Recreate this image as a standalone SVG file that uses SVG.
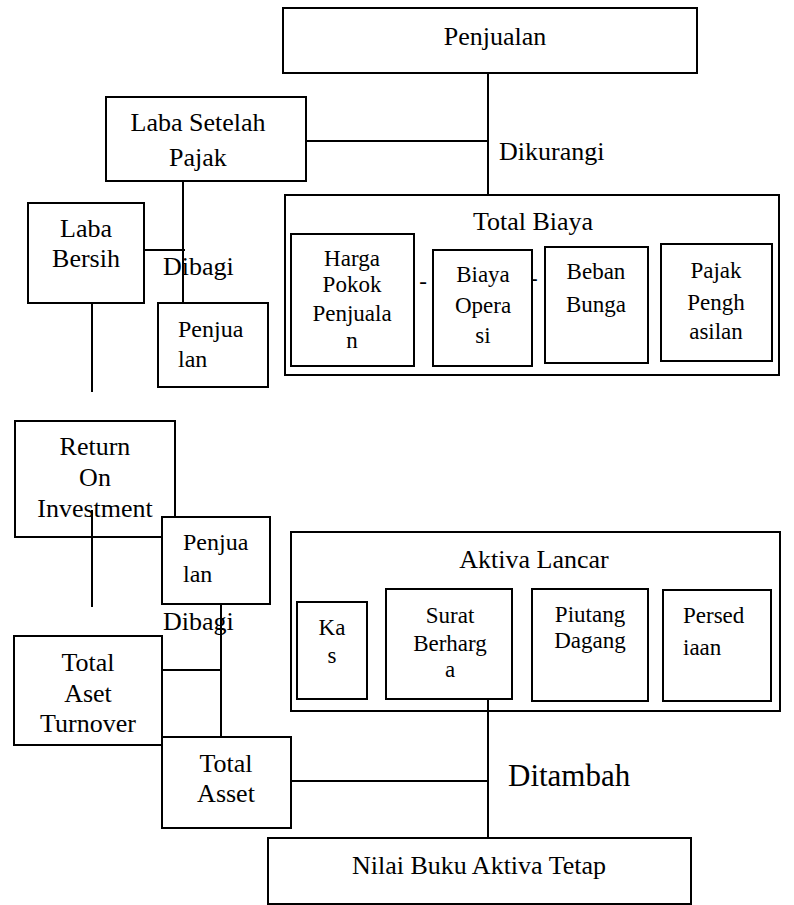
<svg xmlns="http://www.w3.org/2000/svg" width="794" height="905" viewBox="0 0 794 905">
<style>
  rect { fill: #fff; stroke: #000; stroke-width: 2; }
  line { stroke: #000; stroke-width: 2; }
  text { font-family: 'Liberation Serif', 'DejaVu Serif', serif; fill: #000; }
  .l { font-size: 26px; }
  .s { font-size: 23px; }
  .m { font-size: 24px; }
  .c { text-anchor: middle; }
</style>
<rect x="0" y="0" width="794" height="905" style="fill:#fff;stroke:none"/>

<g id="penjualan-top">
  <rect x="283" y="8" width="414" height="65"/>
  <text class="l c" x="495" y="45">Penjualan</text>
</g>

<g id="laba-setelah-pajak">
  <rect x="106" y="97" width="200" height="84"/>
  <text class="l c" x="198" y="131">Laba Setelah</text>
  <text class="l c" x="198" y="166">Pajak</text>
</g>

<g id="total-biaya">
  <rect x="285" y="195" width="494" height="180"/>
  <text class="l c" x="533" y="230">Total Biaya</text>
  <text class="s c" x="423" y="289">-</text>
  <text class="s" x="530" y="286">-</text>
  <g id="harga-pokok-penjualan">
    <rect x="291" y="234" width="123" height="132"/>
    <text class="s c" x="352" y="266">Harga</text>
    <text class="s c" x="352" y="292">Pokok</text>
    <text class="s c" x="352" y="321">Penjuala</text>
    <text class="s c" x="352" y="348">n</text>
  </g>
  <g id="biaya-operasi">
    <rect x="433" y="250" width="99" height="116"/>
    <text class="s c" x="483" y="282">Biaya</text>
    <text class="s c" x="483" y="313">Opera</text>
    <text class="s c" x="483" y="343">si</text>
  </g>
  <g id="beban-bunga">
    <rect x="545" y="247" width="103" height="116"/>
    <text class="s c" x="596" y="279">Beban</text>
    <text class="s c" x="596" y="312">Bunga</text>
  </g>
  <g id="pajak-penghasilan">
    <rect x="661" y="244" width="111" height="117"/>
    <text class="s c" x="716" y="278">Pajak</text>
    <text class="s c" x="716" y="310">Pengh</text>
    <text class="s c" x="716" y="339">asilan</text>
  </g>
</g>

<g id="laba-bersih">
  <rect x="28" y="203" width="116" height="100"/>
  <text class="l c" x="86" y="237">Laba</text>
  <text class="l c" x="86" y="267">Bersih</text>
</g>

<g id="penjualan-1">
  <rect x="158" y="303" width="110" height="84"/>
  <text class="m" x="178" y="337">Penjua</text>
  <text class="m" x="178" y="367">lan</text>
</g>

<g id="return-on-investment">
  <rect x="15" y="421" width="160" height="116"/>
  <text class="l c" x="95" y="455">Return</text>
  <text class="l c" x="95" y="486">On</text>
  <text class="l c" x="95" y="517">Investment</text>
</g>

<g id="penjualan-2">
  <rect x="162" y="517" width="108" height="87"/>
  <text class="m" x="183" y="550">Penjua</text>
  <text class="m" x="183" y="582">lan</text>
</g>

<g id="total-aset-turnover">
  <rect x="14" y="636" width="148" height="109"/>
  <text class="l c" x="88" y="671">Total</text>
  <text class="l c" x="88" y="702">Aset</text>
  <text class="l c" x="88" y="732">Turnover</text>
</g>

<g id="aktiva-lancar">
  <rect x="291" y="532" width="489" height="179"/>
  <text class="l c" x="534" y="568">Aktiva Lancar</text>
  <g id="kas">
    <rect x="297" y="602" width="70" height="97"/>
    <text class="s c" x="332" y="635">Ka</text>
    <text class="s c" x="332" y="663">s</text>
  </g>
  <g id="surat-berharga">
    <rect x="386" y="589" width="126" height="110"/>
    <text class="s c" x="450" y="623">Surat</text>
    <text class="s c" x="450" y="651">Berharg</text>
    <text class="s c" x="450" y="677">a</text>
  </g>
  <g id="piutang-dagang">
    <rect x="532" y="589" width="116" height="112"/>
    <text class="s c" x="590" y="622">Piutang</text>
    <text class="s c" x="590" y="648">Dagang</text>
  </g>
  <g id="persediaan">
    <rect x="663" y="590" width="108" height="111"/>
    <text class="s" x="683" y="623">Persed</text>
    <text class="s" x="683" y="655">iaan</text>
  </g>
</g>

<g id="total-asset">
  <rect x="162" y="737" width="129" height="91"/>
  <text class="l c" x="226" y="772">Total</text>
  <text class="l c" x="226" y="802">Asset</text>
</g>

<g id="nilai-buku-aktiva-tetap">
  <rect x="268" y="838" width="423" height="66"/>
  <text class="l c" x="479" y="874">Nilai Buku Aktiva Tetap</text>
</g>

<g id="connectors">
  <line x1="488" y1="73" x2="488" y2="195"/>
  <line x1="306" y1="141" x2="488" y2="141"/>
  <line x1="183" y1="181" x2="183" y2="303"/>
  <line x1="144" y1="250" x2="185" y2="250"/>
  <line x1="92" y1="303" x2="92" y2="392"/>
  <line x1="92" y1="510" x2="92" y2="607"/>
  <line x1="221" y1="604" x2="221" y2="737"/>
  <line x1="162" y1="670" x2="221" y2="670"/>
  <line x1="488" y1="699" x2="488" y2="838"/>
  <line x1="291" y1="781" x2="488" y2="781"/>
</g>

<g id="labels">
  <text class="l" x="499" y="160">Dikurangi</text>
  <text class="l" x="163" y="275">Dibagi</text>
  <text class="l" x="163" y="630">Dibagi</text>
  <text x="508" y="786" style="font-size:31px">Ditambah</text>
</g>
</svg>
